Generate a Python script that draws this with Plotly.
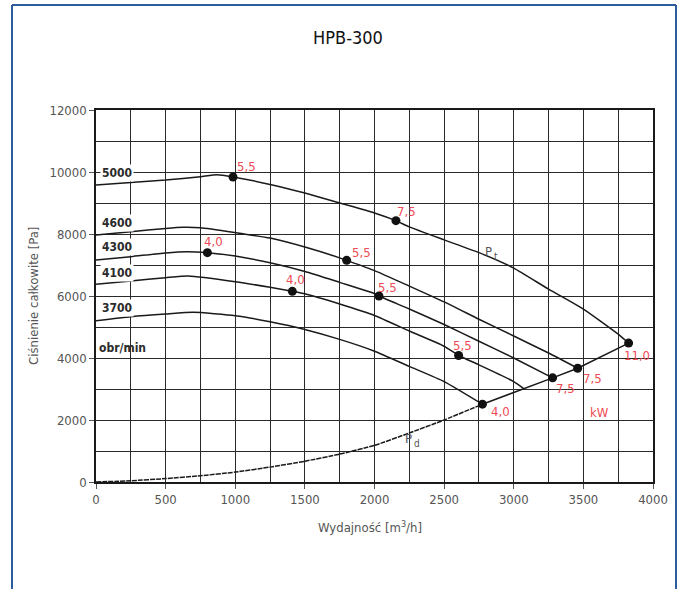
import plotly.graph_objects as go

# ---------------- data ----------------
speed_labels = ["5000", "4600", "4300", "4100", "3700"]

q_5000 = [0, 250, 500, 750, 870, 984, 1250, 1500, 1750, 2000, 2154, 2250, 2500, 2750, 3000, 3250, 3500, 3750, 3825]
p_5000 = [9580, 9660, 9740, 9850, 9910, 9840, 9600, 9320, 9000, 8680, 8430, 8230, 7810, 7400, 6900, 6220, 5580, 4770, 4480]

q_4600 = [0, 250, 500, 625, 750, 1000, 1250, 1500, 1750, 1800, 2000, 2250, 2500, 2750, 3000, 3250, 3459]
p_4600 = [7970, 8075, 8180, 8215, 8200, 8045, 7870, 7580, 7230, 7150, 6820, 6320, 5810, 5250, 4710, 4160, 3670]

q_4300 = [0, 250, 500, 650, 800, 1000, 1250, 1500, 1750, 2000, 2032, 2250, 2500, 2750, 3000, 3279]
p_4300 = [7160, 7270, 7390, 7430, 7397, 7290, 7070, 6790, 6440, 6080, 6000, 5580, 5080, 4540, 4000, 3360]

q_4100 = [0, 250, 500, 663, 1000, 1250, 1410, 1500, 1750, 2000, 2250, 2500, 2604, 2750, 3000, 3069]
p_4100 = [6376, 6484, 6590, 6645, 6462, 6280, 6150, 6070, 5740, 5370, 4870, 4380, 4080, 3780, 3240, 3020]

q_3700 = [0, 250, 500, 700, 1000, 1250, 1500, 1750, 2000, 2250, 2500, 2775]
p_3700 = [5204, 5333, 5419, 5473, 5365, 5170, 4920, 4600, 4220, 3730, 3240, 2510]

# dynamic pressure curve P_d
q_pd = [0, 250, 500, 750, 1000, 1250, 1500, 1750, 2000, 2250, 2500, 2775, 3069, 3279, 3459, 3825]
p_pd = [0, 40, 110, 200, 320, 480, 670, 900, 1180, 1580, 2000, 2510, 3020, 3360, 3670, 4480]

# motor power points [kW]
dot_q = [984, 2154, 3825, 1800, 3459, 800, 2032, 3279, 1410, 2604, 2775]
dot_p = [9840, 8430, 4480, 7150, 3670, 7397, 6000, 3360, 6150, 4080, 2510]
dot_kw = ["5,5", "7,5", "11,0", "5,5", "7,5", "4,0", "5,5", "7,5", "4,0", "5,5", "4,0"]

x_ticks = [0, 500, 1000, 1500, 2000, 2500, 3000, 3500, 4000]
y_ticks = [0, 2000, 4000, 6000, 8000, 10000, 12000]

# ---------------- styling / layout ----------------
W, H = 683, 589
ML, MR, MT, MB = 96, 30, 110, 107
PW, PH = W - ML - MR, H - MT - MB

FONT = "Liberation Sans Narrow, DejaVu Sans Condensed, Roboto Condensed, Roboto, sans-serif"
RED = "#ee4b55"
LINE = "#1a1a1a"
GRID = "#2a2a2a"
GRAY = "#555555"
FRAME = "#2b5d9b"

# pixel shift of each kW label relative to its dot
label_shift = [(13, 10), (11, 9), (8, -12), (15, 8), (15, -10), (6, 11), (9, 9), (13, -11), (3, 12), (4, 10), (18, -7)]

fig = go.Figure()

curves = [(q_5000, p_5000), (q_4600, p_4600), (q_4300, p_4300), (q_4100, p_4100), (q_3700, p_3700)]
for (qx, py), name in zip(curves, speed_labels):
    fig.add_trace(go.Scatter(x=qx, y=py, mode="lines", name=name,
                             line=dict(color=LINE, width=1.5, shape="spline", smoothing=0.5),
                             hoverinfo="skip", showlegend=False))

split = q_pd.index(2775)
fig.add_trace(go.Scatter(x=q_pd[:split + 1], y=p_pd[:split + 1], mode="lines",
                         line=dict(color=LINE, width=1.5, dash="5px,1px", shape="spline", smoothing=0.4),
                         hoverinfo="skip", showlegend=False))
fig.add_trace(go.Scatter(x=q_pd[split:], y=p_pd[split:], mode="lines",
                         line=dict(color=LINE, width=1.5),
                         hoverinfo="skip", showlegend=False))

fig.add_trace(go.Scatter(x=dot_q, y=dot_p, mode="markers",
                         marker=dict(color="#111111", size=9),
                         hoverinfo="skip", showlegend=False))

annotations = []
for q, p, t, (dx, dy) in zip(dot_q, dot_p, dot_kw, label_shift):
    annotations.append(dict(x=q, y=p, xref="x", yref="y", text=t, showarrow=False,
                            xanchor="center", yanchor="middle", xshift=dx, yshift=dy,
                            font=dict(family=FONT, size=13, color=RED)))

# speed labels at the left edge
speed_label_pos = [9980, 8365, 7580, 6740, 5610]
for t, yp in zip(speed_labels, speed_label_pos):
    annotations.append(dict(x=0, y=yp, xref="x", yref="y", text="<b>" + t + "</b>", showarrow=False,
                            xanchor="left", yanchor="middle", xshift=4, bgcolor="white", borderpad=1,
                            font=dict(family=FONT, size=12, color="#2b2b2b")))
annotations.append(dict(x=0, y=4330, xref="x", yref="y", text="<b>obr/min</b>", showarrow=False,
                        xanchor="left", yanchor="middle", xshift=1,
                        font=dict(family=FONT, size=12, color="#2b2b2b")))

annotations.append(dict(x=3619, y=2258, xref="x", yref="y", text="kW", showarrow=False,
                        xanchor="center", yanchor="middle",
                        font=dict(family=FONT, size=13, color=RED)))

# P_t and P_d curve names (letter + small subscript)
for (qx, py), main, sub in [((2851, 7387), "P", "t"), ((2276, 1355), "P", "d")]:
    annotations.append(dict(x=qx, y=py, xref="x", yref="y", text=main, showarrow=False,
                            xanchor="right", yanchor="middle", xshift=1, yshift=2,
                            font=dict(family=FONT, size=13, color=GRAY)))
    annotations.append(dict(x=qx, y=py, xref="x", yref="y", text=sub, showarrow=False,
                            xanchor="left", yanchor="middle", xshift=-1, yshift=-3,
                            font=dict(family=FONT, size=10, color=GRAY)))

# axis titles
annotations.append(dict(x=(33 - ML) / PW, y=0.5, xref="paper", yref="paper",
                        xanchor="center", yanchor="middle",
                        text="Ciśnienie całkowite [Pa]", textangle=-90, showarrow=False,
                        font=dict(family=FONT, size=13, color=GRAY)))
annotations.append(dict(x=(370 - ML) / PW, y=(H - MB - 527) / PH, xref="paper", yref="paper",
                        xanchor="center", yanchor="middle",
                        text="Wydajność [m<sup>3</sup>/h]", showarrow=False,
                        font=dict(family=FONT, size=13, color=GRAY)))

# blue page frame (left, top, right edges)
fx0, fx1 = (12 - ML) / PW, (676 - ML) / PW
fy0, fy1 = (H - MB - 600) / PH, (H - MB - 5) / PH
shapes = [
    dict(type="line", xref="paper", yref="paper", x0=fx0, x1=fx0, y0=fy0, y1=fy1,
         line=dict(color=FRAME, width=2)),
    dict(type="line", xref="paper", yref="paper", x0=fx1, x1=fx1, y0=fy0, y1=fy1,
         line=dict(color=FRAME, width=2)),
    dict(type="line", xref="paper", yref="paper", x0=fx0, x1=fx1, y0=fy1, y1=fy1,
         line=dict(color=FRAME, width=2)),
]

fig.update_layout(
    width=W, height=H,
    margin=dict(l=ML, r=MR, t=MT, b=MB),
    paper_bgcolor="white", plot_bgcolor="white",
    title=dict(text="HPB-300", x=348 / W, xref="container", xanchor="center",
               y=1 - 38 / H, yref="container", yanchor="middle",
               font=dict(family=FONT, size=18, color="#111111")),
    annotations=annotations, shapes=shapes,
    font=dict(family=FONT, color=GRAY),
)

fig.update_xaxes(range=[0, 4000], tickvals=x_ticks, ticktext=[str(v) for v in x_ticks],
                 showgrid=True, gridcolor=GRID, gridwidth=1,
                 minor=dict(dtick=250, showgrid=True, gridcolor=GRID, gridwidth=1),
                 showline=True, linecolor=LINE, linewidth=1.5, mirror=True,
                 ticks="outside", ticklen=5, tickcolor=GRAY, zeroline=False,
                 tickfont=dict(family=FONT, size=13, color=GRAY))
fig.update_yaxes(range=[0, 12000], tickvals=y_ticks, ticktext=[str(v) for v in y_ticks],
                 showgrid=True, gridcolor=GRID, gridwidth=1,
                 minor=dict(dtick=1000, showgrid=True, gridcolor=GRID, gridwidth=1),
                 showline=True, linecolor=LINE, linewidth=1.5, mirror=True,
                 ticks="outside", ticklen=5, tickcolor=GRAY, zeroline=False,
                 tickfont=dict(family=FONT, size=13, color=GRAY))

fig.write_html("out.html", config={"displayModeBar": False},
               post_script="document.body.style.margin='0px';")
